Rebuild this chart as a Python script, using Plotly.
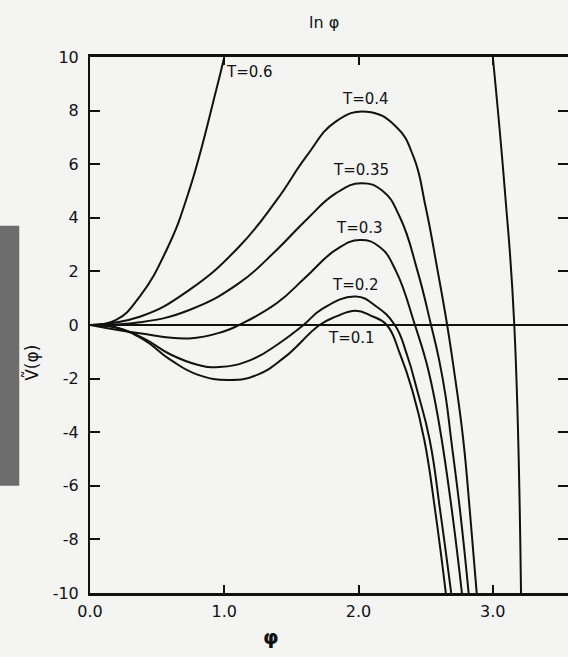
import plotly.graph_objects as go

# ---- data ----
phi_t06 = [0, 0.195, 0.37, 0.57, 0.74, 0.94, 1.0, None, 3.0, 3.09, 3.16, 3.21]
v_t06 = [0, 0.19, 1.06, 2.8, 5.04, 8.77, 10.0, None, 10.0, 5.0, 0, -10]

phi_t04 = [0, 0.37, 0.74, 1.11, 1.39, 1.61, 1.83, 2.06, 2.28, 2.41, 2.50, 2.59, 2.66, 2.72, 2.78, 2.83, 2.88]
v_t04 = [0, 0.31, 1.31, 2.92, 4.66, 6.28, 7.59, 7.96, 7.4, 6.27, 4.4, 2.0, 0, -2.0, -4.29, -7.0, -10]

phi_t035 = [0, 0.37, 0.74, 1.11, 1.39, 1.61, 1.83, 2.02, 2.18, 2.31, 2.44, 2.54, 2.60, 2.65, 2.69, 2.76, 2.82]
v_t035 = [0, 0.1, 0.56, 1.56, 2.8, 3.92, 4.91, 5.29, 5.0, 4.0, 2.0, 0, -1.3, -2.7, -4.29, -7.1, -10]

phi_t03 = [0, 0.37, 0.74, 0.99, 1.11, 1.39, 1.61, 1.83, 2.01, 2.16, 2.28, 2.42, 2.50, 2.56, 2.62, 2.70, 2.77]
v_t03 = [0, -0.31, -0.5, -0.25, 0, 0.81, 1.8, 2.8, 3.17, 2.9, 2.0, 0, -1.3, -2.6, -4.29, -7.1, -10]

phi_t02 = [0, 0.2, 0.4, 0.6, 0.8, 0.96, 1.2, 1.41, 1.59, 1.73, 1.98, 2.13, 2.27, 2.36, 2.44, 2.53, 2.61, 2.69]
v_t02 = [0, -0.1, -0.5, -1.1, -1.48, -1.57, -1.3, -0.68, 0, 0.6, 1.06, 0.7, 0, -1.1, -2.5, -4.29, -7.0, -10]

phi_t01 = [0, 0.2, 0.4, 0.6, 0.8, 1.04, 1.25, 1.45, 1.71, 1.83, 1.98, 2.09, 2.21, 2.31, 2.40, 2.49, 2.57, 2.65]
v_t01 = [0, -0.1, -0.55, -1.3, -1.85, -2.05, -1.85, -1.2, 0, 0.31, 0.53, 0.35, 0, -1.1, -2.43, -4.29, -6.9, -10]

curve_labels = ["T=0.6", "T=0.4", "T=0.35", "T=0.3", "T=0.2", "T=0.1"]
label_phi = [1.19, 2.05, 2.02, 2.01, 1.98, 1.95]
label_v = [9.44, 8.43, 5.78, 3.62, 1.49, -0.49]

y_ticks = [10, 8, 6, 4, 2, 0, -2, -4, -6, -8, -10]
y_ticktext = ["10", "8", "6", "4", "2", "0", "-2", "-4", "-6", "-8", "-10"]
x_ticks = [0, 1, 2, 3]
x_ticktext = ["0.0", "1.0", "2.0", "3.0"]
right_ticks = [8, 6, 4, 2, -2, -4, -6, -8]

FONT = "DejaVu Sans"
INK = "#111111"

fig = go.Figure()
series = [(phi_t06, v_t06), (phi_t04, v_t04), (phi_t035, v_t035),
          (phi_t03, v_t03), (phi_t02, v_t02), (phi_t01, v_t01)]
for (px_, py_), name in zip(series, curve_labels):
    fig.add_trace(go.Scatter(x=px_, y=py_, mode="lines", name=name,
                             line=dict(color=INK, width=2, shape="spline", smoothing=1.3),
                             connectgaps=False, showlegend=False, hoverinfo="skip"))

# invisible trace to activate right-side tick axis
fig.add_trace(go.Scatter(x=[0], y=[0], yaxis="y2", mode="markers",
                         marker=dict(opacity=0), showlegend=False, hoverinfo="skip"))

for t, xx, yy in zip(curve_labels, label_phi, label_v):
    fig.add_annotation(x=xx, y=yy, text=t, showarrow=False,
                       font=dict(family=FONT, size=15, color=INK))

fig.add_annotation(xref="paper", yref="paper", x=0.49, y=1.0, yshift=46, text="ln φ",
                   showarrow=False, font=dict(family=FONT, size=16, color=INK))
fig.add_annotation(xref="paper", yref="paper", x=0.378, y=0, yshift=-58, text="<b>φ</b>",
                   showarrow=False, font=dict(family=FONT, size=20, color=INK))
fig.add_annotation(xref="paper", yref="paper", x=-0.149, y=0.43, text="Ṽ(φ)", textangle=-90,
                   showarrow=False, font=dict(family=FONT, size=17, color=INK))

# scanner artefact at the far left edge
fig.add_shape(type="rect", xref="paper", yref="paper", x0=-0.19, x1=-0.148, y0=0.2, y1=0.685,
              fillcolor="#555555", line=dict(width=0), layer="below", opacity=0.85)

fig.update_layout(
    width=568, height=657,
    margin=dict(l=90, r=0, t=57, b=64),
    paper_bgcolor="#f4f4f3", plot_bgcolor="#f4f4f3",
    font=dict(family=FONT, size=15, color=INK),
    xaxis=dict(range=[0, 3.56], tickvals=x_ticks, ticktext=x_ticktext,
               ticks="inside", ticklen=8, tickwidth=2, tickcolor=INK,
               showline=True, linecolor=INK, linewidth=3, mirror="ticks",
               showgrid=False, zeroline=False, ticklabelstandoff=2,
               tickfont=dict(family=FONT, size=16, color=INK)),
    yaxis=dict(range=[-10, 10], tickvals=y_ticks, ticktext=y_ticktext,
               ticks="inside", ticklen=10, tickwidth=2, tickcolor=INK,
               showline=True, linecolor=INK, linewidth=2, mirror=False,
               showgrid=False, zeroline=True, zerolinecolor=INK, zerolinewidth=2,
               ticklabelstandoff=6,
               tickfont=dict(family=FONT, size=16, color=INK)),
    yaxis2=dict(range=[-10, 10], overlaying="y", side="right", tickvals=right_ticks,
                ticks="inside", ticklen=10, tickwidth=2, tickcolor=INK,
                showticklabels=False, showline=False, showgrid=False, zeroline=False),
)

fig.write_html("out.html")
